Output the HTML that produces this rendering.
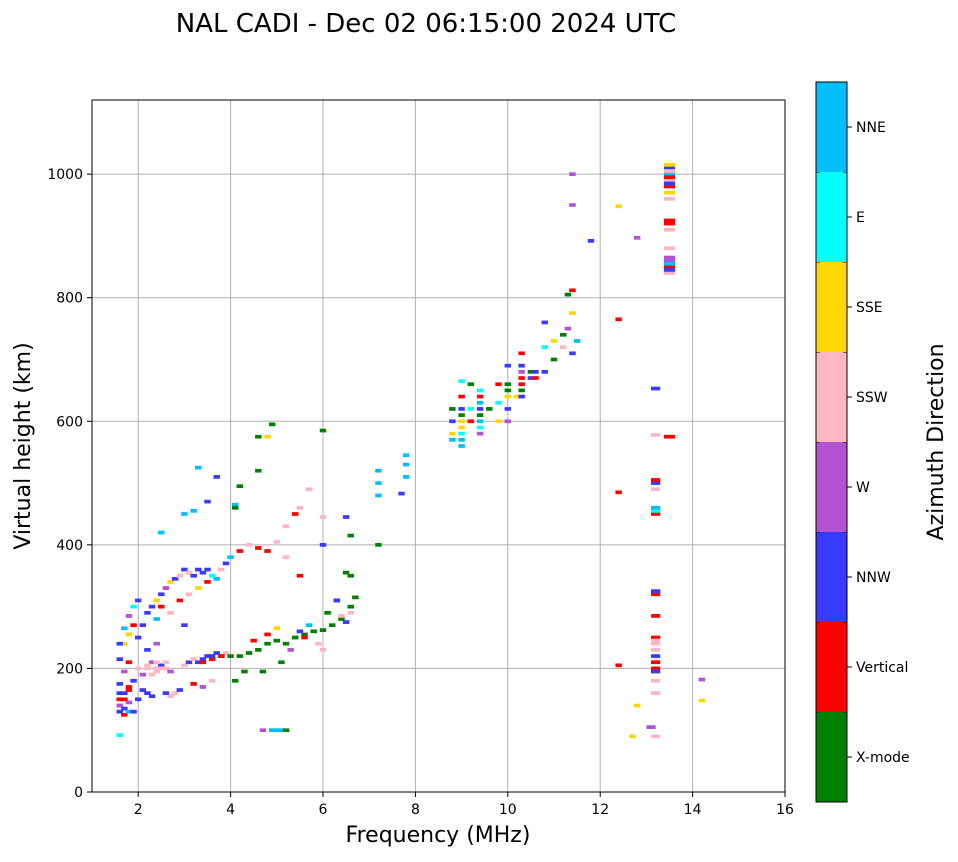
<!DOCTYPE html>
<html><head><meta charset="utf-8"><style>
body{margin:0;background:#fff;font-family:"Liberation Sans","DejaVu Sans",sans-serif;}
svg text{font-family:"DejaVu Sans","Liberation Sans",sans-serif;}
</style></head><body>
<svg id="chart" width="958" height="857" xmlns="http://www.w3.org/2000/svg">
<text x="426" y="32" font-size="26" text-anchor="middle">NAL CADI - Dec 02 06:15:00 2024 UTC</text>
<g id="grid"></g>
<g id="marks"></g>
<rect x="92" y="100" width="693" height="692" fill="none" stroke="#000" stroke-width="1"/>
<g id="axes"></g>
<text x="438" y="842" font-size="22" text-anchor="middle">Frequency (MHz)</text>
<text transform="translate(30,446) rotate(-90)" font-size="22" text-anchor="middle">Virtual height (km)</text>
<g id="cbar"></g>
<text transform="translate(943,442) rotate(-90)" font-size="22" text-anchor="middle">Azimuth Direction</text>
</svg>
<script>
const dirNames=["X-mode","Vertical","NNW","W","SSW","SSE","E","NNE"];
const dirColors=["#008000","#ff0000","#3a3aff","#b452d6","#ffb6c1","#ffd700","#00ffff","#00bfff"];
const xTicks=[2,4,6,8,10,12,14,16];
const yTicks=[0,200,400,600,800,1000];
const freqs=[1.6,1.6,1.6,1.7,1.7,1.7,1.8,1.8,1.8,1.9,1.9,1.6,1.6,1.7,1.8,1.6,1.7,1.8,1.9,1.8,1.9,2.0,1.6,1.6,1.7,
2.0,2.1,2.2,2.3,2.1,2.2,2.3,2.4,2.5,2.6,2.7,2.8,2.9,2.7,2.6,3.0,3.1,3.2,3.3,3.4,3.5,3.6,3.7,3.8,3.9,3.2,3.4,3.6,
2.0,2.1,2.2,2.3,2.4,2.5,2.6,2.7,2.8,2.9,3.0,3.1,3.2,3.3,3.4,3.5,3.6,3.7,3.8,3.9,2.4,2.5,2.7,2.9,3.1,3.3,3.5,2.2,2.4,3.0,2.5,3.0,3.2,3.3,3.7,3.5,
4.0,4.2,4.4,4.6,4.8,5.0,5.2,5.4,5.6,5.8,6.0,6.2,6.4,6.6,6.7,6.5,6.6,6.3,4.3,4.1,4.7,5.1,5.5,5.6,5.9,6.0,6.4,6.6,6.5,5.7,5.0,4.5,4.8,5.3,6.1,6.3,
4.0,4.2,4.4,4.6,4.8,5.0,5.2,5.4,5.5,5.7,6.0,6.5,6.6,7.2,7.2,7.2,7.2,6.0,4.9,4.6,4.8,4.6,4.2,4.1,4.1,5.2,5.5,6.0,
4.9,5.0,5.1,5.2,4.7,7.8,7.8,7.8,7.7,
8.8,8.8,8.8,8.8,9.0,9.0,9.0,9.0,9.0,9.2,9.2,9.2,9.4,9.4,9.4,9.4,9.6,9.8,9.8,9.8,10.0,10.0,10.0,10.0,10.2,10.3,10.3,10.3,10.5,10.5,10.8,10.8,10.8,11.0,11.0,11.2,11.2,11.3,11.4,11.5,11.4,11.3,11.4,11.4,11.4,11.8,12.4,12.4,12.8,12.4,12.4,
13.2,13.1,12.8,12.7,13.2,13.2,13.2,13.2,13.2,13.2,13.2,13.2,13.2,13.2,13.2,13.2,13.2,13.2,13.2,13.2,13.5,13.5,13.5,13.5,13.5,13.5,13.5,13.5,13.5,13.5,13.5,13.5,13.5,13.5,14.2,14.2,
9.0,9.0,9.0,9.0,9.4,9.4,9.4,9.4,10.0,10.0,10.3,10.3,10.3,10.3,10.6,10.6,13.5,13.5,13.5,13.5,13.5,13.5,13.5,13.2,13.2,13.2,13.2,13.2,13.2,2.2,2.4,2.4,2.6,1.8,1.7,2.0,2.3,2.5,3.4,3.6,3.8];
const heights=[130,140,150,125,135,160,130,145,170,130,180,160,175,195,210,215,240,255,270,285,300,310,92,240,265,
150,165,160,155,190,200,210,195,205,200,195,160,165,155,160,205,210,215,210,215,220,220,225,220,225,175,170,180,
250,270,290,300,310,320,330,340,345,350,360,355,350,360,355,360,350,345,360,370,280,300,290,310,320,330,340,230,240,270,420,450,455,525,510,470,
220,220,225,230,240,245,240,250,255,260,262,270,280,300,315,355,350,310,195,180,195,210,260,250,240,230,285,290,275,270,265,245,255,230,290,310,
380,390,400,395,390,405,430,450,460,490,445,445,415,400,520,500,480,585,595,575,575,520,495,465,460,380,350,400,
100,100,100,100,100,510,530,545,483,
600,580,570,620,560,580,600,640,665,600,620,660,600,620,650,580,620,600,630,660,620,650,690,600,640,660,690,710,670,680,680,720,760,700,730,740,720,750,710,730,775,805,812,950,1000,892,948,765,897,485,205,
90,105,140,90,160,180,200,220,240,250,285,320,325,450,455,490,500,505,578,653,575,840,850,860,880,910,920,960,970,980,990,1000,1010,1015,148,182,
570,590,610,620,590,610,630,640,640,660,640,650,670,680,670,680,845,855,865,925,985,995,1005,195,210,230,245,325,460,205,210,200,210,165,150,200,190,200,210,215,220];
const dirs=[2,3,1,1,2,2,7,3,1,2,2,2,2,3,1,2,5,5,1,3,6,2,6,2,7,
2,2,2,2,3,4,3,4,2,4,3,4,2,4,2,4,2,4,2,2,2,2,2,2,4,1,3,4,
2,2,2,2,5,2,3,5,2,4,2,4,2,2,2,2,6,7,4,2,7,1,4,1,4,5,1,2,3,2,7,7,7,7,2,2,
0,0,0,0,0,0,0,0,0,0,0,0,0,0,0,0,0,0,0,0,0,0,2,1,4,4,4,4,2,7,5,1,1,3,0,2,
7,1,4,1,1,4,4,1,4,4,4,2,0,0,7,7,7,0,0,0,5,0,0,7,0,4,1,2,
7,7,7,0,3,7,7,7,2,
2,5,7,0,7,6,5,1,6,1,6,0,7,2,6,3,0,5,6,1,2,0,2,3,5,1,2,1,2,0,2,6,2,0,5,0,4,3,2,7,5,0,1,3,3,2,5,1,3,1,1,
4,3,5,5,4,4,1,2,4,1,1,1,3,1,6,4,2,1,4,2,1,4,1,3,4,4,1,4,5,1,4,7,2,5,5,3,
7,5,0,2,6,0,7,1,5,0,2,0,1,3,1,2,2,7,3,1,2,1,4,2,1,4,4,2,7,4,4,4,4,1,1,4,4,4,1,1,1];
const NS="http://www.w3.org/2000/svg";
const X0=92,X1=785,Y0=792,Y1=100,XMIN=1,XMAX=16,YMIN=0,YMAX=1120;
function xs(f){return X0+(f-XMIN)/(XMAX-XMIN)*(X1-X0);}
function ys(h){return Y0-(h-YMIN)/(YMAX-YMIN)*(Y0-Y1);}
function mk(t,a,p){const e=document.createElementNS(NS,t);for(const k in a)e.setAttribute(k,a[k]);p.appendChild(e);return e;}
const grid=document.getElementById('grid'),axes=document.getElementById('axes'),marks=document.getElementById('marks'),cbar=document.getElementById('cbar');
xTicks.forEach(v=>{const x=xs(v);
 if(v<XMAX){const g=mk('line',{x1:x,x2:x,y1:Y1,y2:Y0,stroke:'#b0b0b0','stroke-width':1},grid);
 
 }
 mk('line',{x1:x,x2:x,y1:Y0,y2:Y0+5,stroke:'#000'},axes);
 const t=mk('text',{x:x,y:Y0+22,'font-size':14,'text-anchor':'middle'},axes);t.textContent=v;
 
 });
yTicks.forEach(v=>{const y=ys(v);
 if(v>0){const g=mk('line',{x1:X0,x2:X1,y1:y,y2:y,stroke:'#b0b0b0','stroke-width':1},grid);
 
 }
 mk('line',{x1:X0-5,x2:X0,y1:y,y2:y,stroke:'#000'},axes);
 const t=mk('text',{x:X0-9,y:y+5,'font-size':14,'text-anchor':'end'},axes);t.textContent=v;
 
 });
const fw=0.14,hh=6;
for(let i=0;i<freqs.length;i++){
 const wide=freqs[i]>=13.4&&freqs[i]<13.6?0.24:(freqs[i]>=13.1&&freqs[i]<13.3?0.2:fw);
 const x=xs(freqs[i]-wide/2),w=xs(freqs[i]+wide/2)-x,y=ys(heights[i]+hh/2),h=ys(heights[i]-hh/2)-y;
 const r=mk('rect',{x:x,y:y,width:w,height:h,fill:dirColors[dirs[i]]},marks);
 
 }
const CX=816,CW=31,CT=82,CB=802,n=dirNames.length,bh=(CB-CT)/n;
dirNames.forEach((d,i)=>{const y=CB-(i+1)*bh;
 const r=mk('rect',{x:CX,y:y,width:CW,height:bh,fill:dirColors[i]},cbar);
 
 
 mk('line',{x1:CX+CW,x2:CX+CW+5,y1:y+bh/2,y2:y+bh/2,stroke:'#000'},cbar);
 mk('line',{x1:CX+CW-4,x2:CX+CW,y1:y,y2:y,stroke:'#000'},cbar);
 mk('line',{x1:CX,x2:CX+4,y1:y,y2:y,stroke:'#000'},cbar);
 const t=mk('text',{x:CX+CW+9,y:y+bh/2+5,'font-size':14},cbar);t.textContent=d;
 
 });
mk('rect',{x:CX,y:CT,width:CW,height:CB-CT,fill:'none',stroke:'#000'},cbar);
</script>
</body></html>
